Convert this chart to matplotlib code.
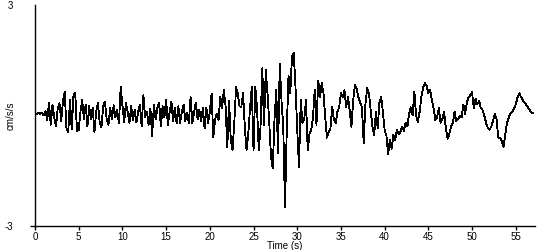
import numpy as np
import matplotlib
matplotlib.use("Agg")
import matplotlib.pyplot as plt

plt.rcParams['font.family'] = ['Liberation Sans', 'DejaVu Sans']

# sample step of the trace (s)
dt = 0.2

# acceleration, cm/s/s in 5 s pieces
a0 = [0.05, 0.05, 0.07, 0.05, 0.07, 0.0, 0.12, -0.12, 0.35, -0.25, 0.28, -0.05, -0.3,
      0.2, 0.34, -0.15, 0.4, 0.64, -0.35, -0.45, 0.42, -0.38, 0.55, 0.62, -0.42]
a5 = [-0.4, 0.1, 0.42, -0.1, 0.3, -0.3, 0.25, -0.1, 0.22, -0.45, 0.1, 0.35, -0.2,
      -0.32, 0.25, 0.38, -0.1, -0.25, 0.2, -0.1, 0.28, -0.05, 0.15, -0.22, 0.78]
a10 = [0.28, -0.18, 0.35, 0.1, -0.2, 0.25, -0.12, 0.15, -0.18, 0.1, 0.3, -0.3, 0.55,
       -0.05, 0.1, -0.25, 0.18, -0.55, 0.28, -0.1, 0.2, 0.35, -0.3, 0.25, -0.05]
a15 = [0.42, -0.25, 0.1, 0.38, -0.15, 0.22, -0.22, 0.25, -0.2, 0.1, 0.3, -0.15, 0.08,
       -0.2, 0.5, -0.2, 0.1, 0.35, -0.1, 0.15, -0.15, 0.2, -0.35, 0.22, -0.2]
a20 = [0.1, 0.6, -0.6, -0.1, 0.05, -0.12, 0.5, 0.2, 0.69, 0.25, -0.86, 0.4, -0.67,
       -0.94, -0.2, 0.77, 0.6, 0.25, 0.23, 0.61, -0.31, -0.94, -0.5, 0.2, 0.77]
a25 = [-0.94, 0.77, 0.2, -0.94, -0.3, 1.28, -0.25, 1.23, 0.6, -0.2, -1.13, -1.43, -0.1,
       0.69, -1.02, 1.4, 0.4, -0.3, -2.5, -0.4, 1.08, 0.6, 1.59, 1.7, 0.77]
a30 = [-0.39, -1.4, 0.42, -0.2, -0.1, 0.42, -0.94, -0.5, -0.4, -0.05, 0.69, -0.25, 0.95,
       0.5, 0.88, 0.61, -0.04, -0.6, -0.45, -0.35, 0.23, -0.12, -0.2, 0.1, 0.23]
a35 = [0.61, 0.5, 0.69, 0.23, 0.5, 0.15, -0.31, 0.42, 0.82, 0.72, 0.5, 0.35, 0.23,
       -0.75, 0.3, 0.74, 0.61, 0.15, -0.31, -0.53, 0.1, -0.34, 0.34, 0.5, 0.1]
a40 = [-0.4, -0.55, -1.05, -0.67, -0.9, -0.53, -0.67, -0.39, -0.5, -0.45, -0.3, -0.42, -0.2,
       -0.3, 0.05, 0.22, 0.0, 0.64, 0.0, -0.18, 0.1, 0.5, 0.75, 0.88, 0.8]
a45 = [0.61, 0.69, 0.42, 0.2, -0.12, -0.05, 0.2, -0.2, -0.1, 0.1, -0.35, -0.63, -0.5,
       -0.3, -0.2, 0.1, -0.15, -0.1, 0.0, -0.05, 0.3, 0.05, 0.34, 0.5, 0.55]
a50 = [0.63, 0.2, 0.45, 0.3, 0.4, 0.2, 0.15, 0.0, -0.2, -0.34, -0.39, -0.3, -0.15,
       0.05, -0.1, -0.6, -0.61, -0.7, -0.86, -0.5, -0.2, -0.05, 0.05, 0.1, 0.2]
a55 = [0.3, 0.5, 0.6, 0.5, 0.42, 0.35, 0.29, 0.22, 0.15, 0.08, 0.07]

acc = np.array(a0 + a5 + a10 + a15 + a20 + a25 + a30 + a35 + a40 + a45 + a50 + a55)
t = np.arange(len(acc)) * dt

xtick_vals = [0, 5, 10, 15, 20, 25, 30, 35, 40, 45, 50, 55]
ytick_vals = [-3, 3]

fig = plt.figure(figsize=(5.5, 2.5), dpi=100)
ax = fig.add_axes([35/550, 1-226/250, 500/550, 221/250])
ax.plot(t, acc, color='black', lw=0.6, antialiased=False)

ax.set_xlim(0, 57.2)
ax.set_ylim(-3, 3)
ax.spines['top'].set_visible(False)
ax.spines['right'].set_visible(False)
ax.spines['left'].set_linewidth(1)
ax.spines['bottom'].set_linewidth(1)

ax.set_xticks(xtick_vals)
ax.set_xticklabels([str(v) for v in xtick_vals])
ax.set_yticks(ytick_vals)
ax.set_yticklabels([str(v) for v in ytick_vals])
ax.tick_params(axis='x', length=3, width=1, pad=1, labelsize=7)
ax.tick_params(axis='y', length=3.6, width=1, pad=12, labelsize=7)
ax.yaxis.get_major_ticks()[1].tick1line.set_visible(False)

ax.set_xlabel('Time (s)', fontsize=7, labelpad=-0.5)
ax.set_ylabel('cm/s/s', fontsize=7)
ax.yaxis.set_label_coords(-0.038, 0.5)

fig.savefig('out.png', dpi=100)
